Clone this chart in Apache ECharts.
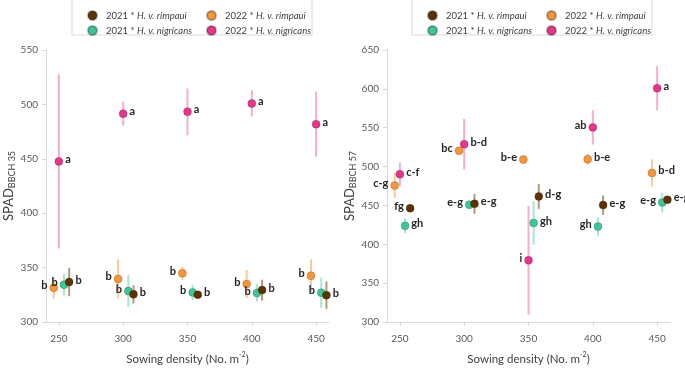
<!DOCTYPE html>
<html>
<head>
<meta charset="utf-8">
<script src="https://cdn.jsdelivr.net/npm/echarts@6/dist/echarts.min.js"></script>
<style>
  html, body { margin: 0; padding: 0; background: #fff; }
  #main { width: 685px; height: 370px; }
</style>
</head>
<body>
<div id="main"></div>
<script>
var densities = [250, 300, 350, 400, 450];
var tickValues = [250, 300, 350, 400, 450];

var names = ['2021 * H. v. rimpaui', '2022 * H. v. rimpaui', '2021 * H. v. nigricans', '2022 * H. v. nigricans'];

// SPAD BBCH 35 (means, +/- error)
var rimp21_35 = [336.7, 325.4, 325.1, 329.3, 324.6];
var rimp21_35err = [13, 8.4, 2, 9.6, 12.6];
var rimp22_35 = [331.4, 339.6, 344.7, 334.9, 342.6];
var rimp22_35err = [9.6, 18, 6, 13, 15];
var nig21_35 = [334.3, 328.4, 327.2, 326.6, 326.9];
var nig21_35err = [10, 14.5, 7, 8, 14];
var nig22_35 = [447.6, 491.5, 493.2, 500.9, 481.8];
var nig22_35err = [80, 11, 21.5, 12, 30];
var rimp21_35let = ['b', 'b', 'b', 'b', 'b'];
var rimp22_35let = ['b', 'b', 'b', 'b', 'b'];
var nig21_35let = ['b', 'b', 'b', 'b', 'b'];
var nig22_35let = ['a', 'a', 'a', 'a', 'a'];

// SPAD BBCH 57
var rimp21_57 = [446.3, 452, 461.5, 450.4, 457.4];
var rimp21_57err = [4.5, 12.7, 16, 12.5, 3];
var rimp22_57 = [475.7, 520.4, 509, 509.5, 491.8];
var rimp22_57err = [16, 4, 5, 7, 17.5];
var nig21_57 = [423.7, 450.8, 427.4, 422.8, 453.7];
var nig21_57err = [9.5, 5, 28, 11.7, 12.7];
var nig22_57 = [490.1, 528.8, 379.3, 550.4, 600.8];
var nig22_57err = [15, 32.5, 70, 22, 28.5];
var rimp21_57let = ['fg', 'e-g', 'd-g', 'e-g', 'e-g'];
var rimp22_57let = ['c-g', 'bc', 'b-e', 'b-e', 'b-d'];
var nig21_57let = ['gh', 'e-g', 'gh', 'gh', 'e-g'];
var nig22_57let = ['c-f', 'b-d', 'i', 'ab', 'a'];

// which side the letter sits on
var side35 = {
  rimp21: ['R', 'R', 'R', 'R', 'R'], rimp22: ['L', 'L', 'L', 'L', 'L'],
  nig21: ['L', 'L', 'L', 'L', 'L'], nig22: ['R', 'R', 'R', 'R', 'R']
};
var side57 = {
  rimp21: ['L', 'R', 'R', 'R', 'R'], rimp22: ['L', 'L', 'L', 'R', 'R'],
  nig21: ['R', 'L', 'R', 'L', 'L'], nig22: ['R', 'R', 'L', 'L', 'R']
};

var colors = { rimp21: '#5e3304', rimp22: '#f5963a', nig21: '#3cc796', nig22: '#e6358a' };
var barColors = { rimp21: 'rgba(94,51,4,0.5)', rimp22: 'rgba(245,150,58,0.5)', nig21: 'rgba(60,199,150,0.45)', nig22: 'rgba(240,90,165,0.5)' };
var dodge = { rimp21: 8, rimp22: -4, nig21: 4, nig22: 0 };
var keyName = { rimp21: names[0], rimp22: names[1], nig21: names[2], nig22: names[3] };

var font = 'Lato, "Open Sans", sans-serif';
var series = [];

function addGroup(key, vals, errs, lets, sides, gi) {
  var pts = [], bars = [];
  for (var i = 0; i < densities.length; i++) {
    var x = densities[i] + dodge[key];
    pts.push({
      value: [x, vals[i]],
      label: { position: sides[i] === 'L' ? 'left' : 'right' }
    });
    bars.push([x, vals[i] - errs[i], vals[i] + errs[i]]);
  }
  series.push({
    type: 'custom', name: key + '_err' + gi,
    xAxisIndex: gi, yAxisIndex: gi, z: 1, silent: true,
    data: bars,
    encode: { x: 0, y: [1, 2] },
    renderItem: function (params, api) {
      var p1 = api.coord([api.value(0), api.value(1)]);
      var p2 = api.coord([api.value(0), api.value(2)]);
      return {
        type: 'line',
        shape: { x1: p1[0], y1: p1[1], x2: p2[0], y2: p2[1] },
        style: { stroke: barColors[key], lineWidth: 2 }
      };
    }
  });
  series.push({
    type: 'scatter', name: keyName[key],
    xAxisIndex: gi, yAxisIndex: gi, z: 3,
    symbolSize: 8,
    itemStyle: { color: colors[key], borderColor: 'rgba(0,0,0,0.3)', borderWidth: 0.6, opacity: 1 },
    label: {
      show: true, distance: 2, offset: [0, -2],
      fontFamily: font, fontWeight: 'bold', fontSize: 11, color: '#262626',
      formatter: function (p) { return lets[p.dataIndex]; }
    },
    data: pts
  });
}

addGroup('nig22', nig22_35, nig22_35err, nig22_35let, side35.nig22, 0);
addGroup('rimp22', rimp22_35, rimp22_35err, rimp22_35let, side35.rimp22, 0);
addGroup('nig21', nig21_35, nig21_35err, nig21_35let, side35.nig21, 0);
addGroup('rimp21', rimp21_35, rimp21_35err, rimp21_35let, side35.rimp21, 0);

addGroup('nig22', nig22_57, nig22_57err, nig22_57let, side57.nig22, 1);
addGroup('rimp22', rimp22_57, rimp22_57err, rimp22_57let, side57.rimp22, 1);
addGroup('nig21', nig21_57, nig21_57err, nig21_57let, side57.nig21, 1);
addGroup('rimp21', rimp21_57, rimp21_57err, rimp21_57let, side57.rimp21, 1);

function xAxis(gi) {
  return {
    type: 'value', gridIndex: gi, min: 240, max: 460,
    name: '{a|Sowing density (No. m}{s|-2}{a|)}',
    nameLocation: 'middle', nameGap: 29,
    nameTextStyle: {
      rich: {
        a: { fontFamily: font, fontSize: 11.5, color: '#404040', lineHeight: 14, verticalAlign: 'bottom' },
        s: { fontFamily: font, fontSize: 7, color: '#404040', lineHeight: 7, verticalAlign: 'top' }
      }
    },
    axisLine: { lineStyle: { color: '#d9d9d9' } },
    axisTick: { show: true, length: 4, customValues: tickValues, lineStyle: { color: '#d9d9d9' } },
    axisLabel: { customValues: tickValues, fontFamily: font, fontSize: 10, color: '#595959', margin: 12 },
    splitLine: { show: false }
  };
}

function yAxis(gi, max, sub) {
  return {
    type: 'value', gridIndex: gi, min: 300, max: max, interval: 50,
    name: '{a|SPAD}{b|' + sub + '}',
    nameLocation: 'middle', nameGap: 28, nameRotate: 90,
    nameTextStyle: {
      rich: {
        a: { fontFamily: font, fontSize: 13, color: '#404040', lineHeight: 16, verticalAlign: 'middle' },
        b: { fontFamily: font, fontSize: 9, color: '#404040', lineHeight: 9, verticalAlign: 'bottom' }
      }
    },
    axisLine: { show: true, lineStyle: { color: '#d9d9d9' } },
    axisTick: { show: true, length: 4, lineStyle: { color: '#d9d9d9' } },
    axisLabel: { fontFamily: font, fontSize: 10, color: '#595959', margin: 8 },
    splitLine: { show: false }
  };
}

function legend(left, items) {
  return {
    orient: 'vertical', left: left, top: 5,
    itemWidth: 9, itemHeight: 9, itemGap: 4, icon: 'circle',
    data: items,
    formatter: function (n) {
      var p = n.split(' * ');
      return '{n|' + p[0] + ' * }{i|' + p[1] + '}';
    },
    textStyle: {
      rich: {
        n: { fontFamily: font, fontSize: 9.5, color: '#404040', padding: [0, 0, 0, 4] },
        i: { fontFamily: font, fontSize: 9.5, color: '#404040', fontStyle: 'italic' }
      }
    }
  };
}

var chart = echarts.init(document.getElementById('main'));
chart.setOption({
  animation: false,
  backgroundColor: '#fff',
  grid: [
    { left: 46, top: 50, width: 283, height: 282 },
    { left: 387, top: 50, width: 283, height: 282 }
  ],
  graphic: [
    { type: 'rect', shape: { x: 72, y: -2, width: 240, height: 37 }, style: { fill: '#fff', stroke: '#d9d9d9', lineWidth: 1 }, z: -1 },
    { type: 'rect', shape: { x: 412, y: -2, width: 240, height: 37 }, style: { fill: '#fff', stroke: '#d9d9d9', lineWidth: 1 }, z: -1 }
  ],
  legend: [
    legend(82, [names[0], names[2]]),
    legend(201, [names[1], names[3]]),
    legend(422, [names[0], names[2]]),
    legend(541, [names[1], names[3]])
  ],
  xAxis: [xAxis(0), xAxis(1)],
  yAxis: [yAxis(0, 550, 'BBCH 35'), yAxis(1, 650, 'BBCH 57')],
  series: series
});
</script>
</body>
</html>
